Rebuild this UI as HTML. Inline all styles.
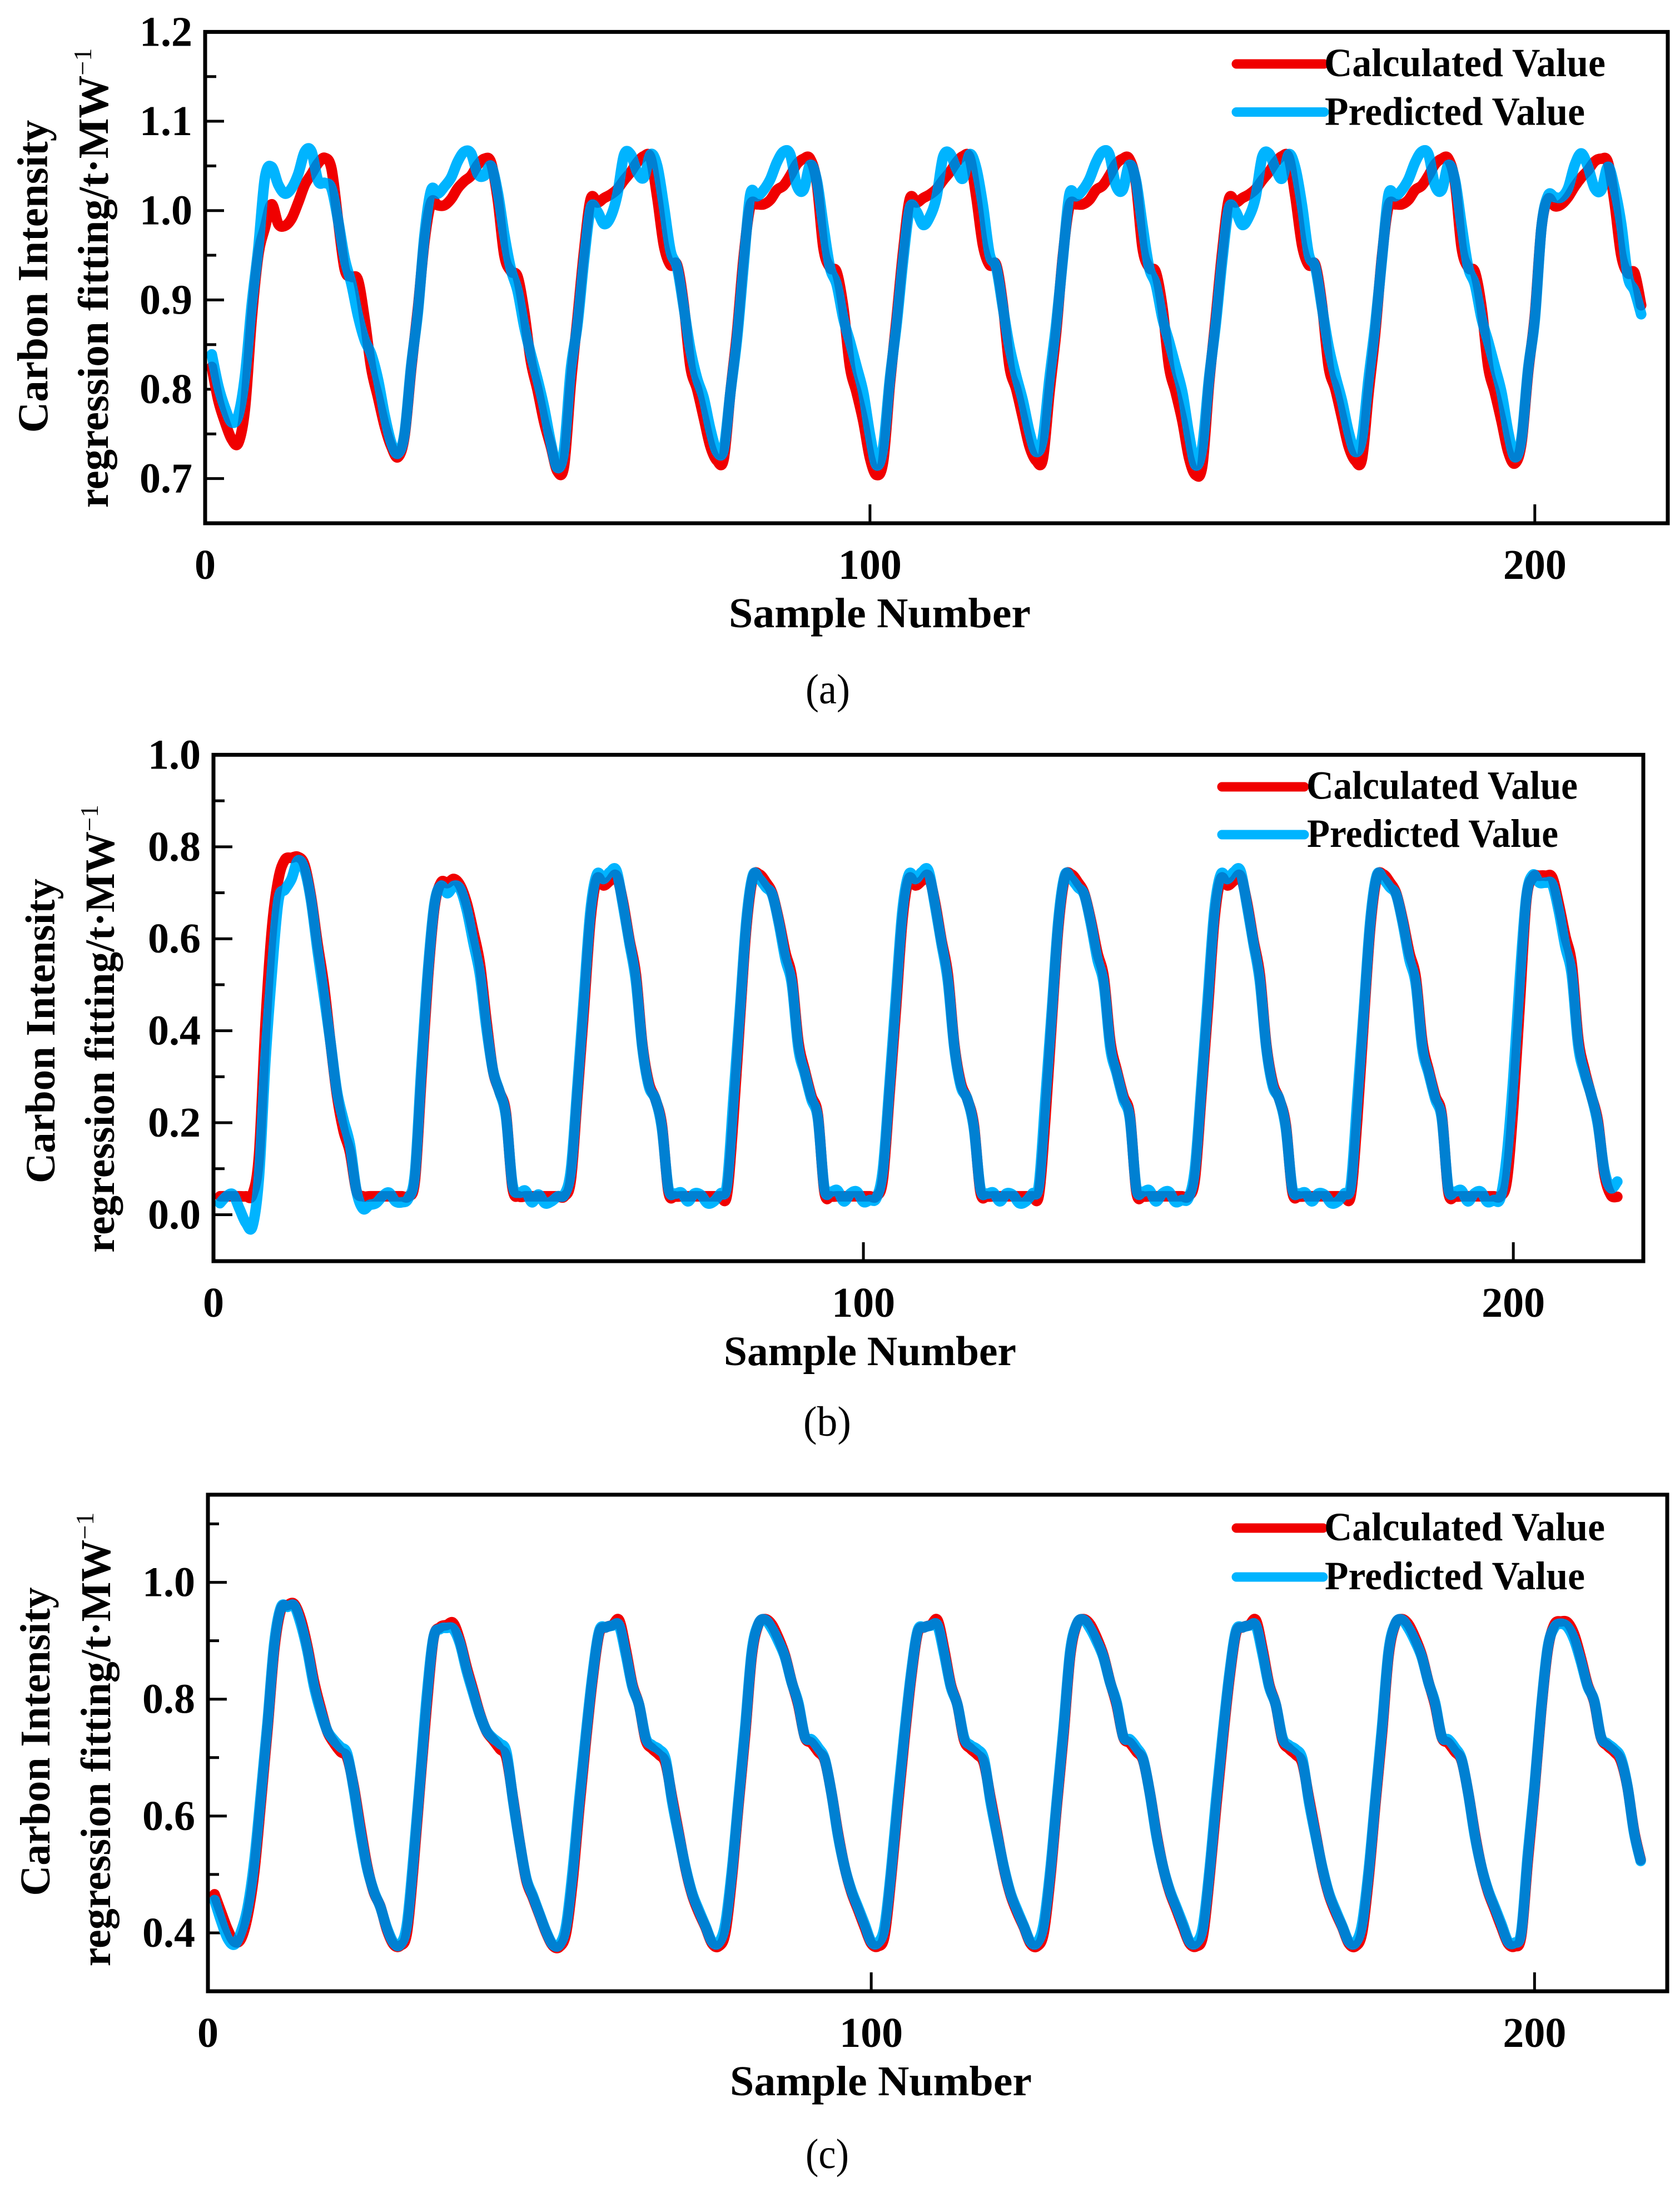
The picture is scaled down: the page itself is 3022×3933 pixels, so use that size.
<!DOCTYPE html>
<html lang="en">
<head>
<meta charset="utf-8">
<title>Carbon Intensity regression fitting</title>
<style>
html,body{margin:0;padding:0;background:#fff}
svg{display:block}
text{font-family:"Liberation Serif",serif;fill:#000}
.b{font-weight:700}
</style>
</head>
<body>
<svg id="figure" xmlns="http://www.w3.org/2000/svg" width="3022" height="3933" viewBox="0 0 3022 3933">
<rect width="3022" height="3933" fill="#fff"/>
<defs id="masks"></defs>

<g id="panel-a"></g>
<g>
  <text class="b" font-size="77" transform="translate(85 497) rotate(-90)" text-anchor="middle">Carbon Intensity</text>
  <text class="b" font-size="77" transform="translate(194 500) rotate(-90)" text-anchor="middle">regression fitting/t·MW<tspan font-size="46" font-weight="400" dy="-30">−1</tspan></text>
  <text class="b" font-size="76" x="1311" y="1128" textLength="543" lengthAdjust="spacingAndGlyphs">Sample Number</text>
  <text font-size="76" x="1449" y="1265" textLength="80" lengthAdjust="spacingAndGlyphs">(a)</text>
  <line x1="2224" x2="2382" y1="115" y2="115" stroke="#f00000" stroke-width="17" stroke-linecap="round"/>
  <line x1="2224" x2="2382" y1="201.5" y2="201.5" stroke="#00b4ff" stroke-width="17" stroke-linecap="round"/>
  <text class="b" font-size="72" x="2382" y="137" textLength="506" lengthAdjust="spacingAndGlyphs">Calculated Value</text>
  <text class="b" font-size="72" x="2383" y="224.5" textLength="468" lengthAdjust="spacingAndGlyphs">Predicted Value</text>
</g>

<g id="panel-b"></g>
<g>
  <text class="b" font-size="75" transform="translate(98 1854) rotate(-90)" text-anchor="middle">Carbon Intensity</text>
  <text class="b" font-size="75" transform="translate(205 1850) rotate(-90)" text-anchor="middle">regression fitting/t·MW<tspan font-size="45" font-weight="400" dy="-29">−1</tspan></text>
  <text class="b" font-size="75" x="1302" y="2455" textLength="526" lengthAdjust="spacingAndGlyphs">Sample Number</text>
  <text font-size="76" x="1445" y="2582" textLength="86" lengthAdjust="spacingAndGlyphs">(b)</text>
  <line x1="2198" x2="2346" y1="1415" y2="1415" stroke="#f00000" stroke-width="17" stroke-linecap="round"/>
  <line x1="2198" x2="2346" y1="1501" y2="1501" stroke="#00b4ff" stroke-width="17" stroke-linecap="round"/>
  <text class="b" font-size="72" x="2350" y="1436.7" textLength="488" lengthAdjust="spacingAndGlyphs">Calculated Value</text>
  <text class="b" font-size="72" x="2351" y="1523" textLength="452" lengthAdjust="spacingAndGlyphs">Predicted Value</text>
</g>

<g id="panel-c"></g>
<g>
  <text class="b" font-size="76" transform="translate(89 3132) rotate(-90)" text-anchor="middle">Carbon Intensity</text>
  <text class="b" font-size="76" transform="translate(198 3128) rotate(-90)" text-anchor="middle">regression fitting/t·MW<tspan font-size="46" font-weight="400" dy="-30">−1</tspan></text>
  <text class="b" font-size="76" x="1313" y="3768" textLength="543" lengthAdjust="spacingAndGlyphs">Sample Number</text>
  <text font-size="76" x="1449" y="3899" textLength="78" lengthAdjust="spacingAndGlyphs">(c)</text>
  <line x1="2224" x2="2380" y1="2748" y2="2748" stroke="#f00000" stroke-width="17" stroke-linecap="round"/>
  <line x1="2224" x2="2380" y1="2836" y2="2836" stroke="#00b4ff" stroke-width="17" stroke-linecap="round"/>
  <text class="b" font-size="72" x="2382" y="2770" textLength="505" lengthAdjust="spacingAndGlyphs">Calculated Value</text>
  <text class="b" font-size="72" x="2383" y="2858" textLength="468" lengthAdjust="spacingAndGlyphs">Predicted Value</text>
</g>
</svg>

<script>
const xTickValues = [0, 100, 200];

const aYMajorTicks = [0.7, 0.8, 0.9, 1.0, 1.1, 1.2];
const aYMinorTicks = [0.65, 0.75, 0.85, 0.95, 1.05, 1.15];
const aYTickLabels = ["0.7", "0.8", "0.9", "1.0", "1.1", "1.2"];
const bYMajorTicks = [0.0, 0.2, 0.4, 0.6, 0.8, 1.0];
const bYMinorTicks = [-0.1, 0.1, 0.3, 0.5, 0.7, 0.9];
const bYTickLabels = ["0.0", "0.2", "0.4", "0.6", "0.8", "1.0"];
const cYMajorTicks = [0.4, 0.6, 0.8, 1.0];
const cYMinorTicks = [0.3, 0.5, 0.7, 0.9, 1.1];
const cYTickLabels = ["0.4", "0.6", "0.8", "1.0"];

const aCalculated = [
.825,.787,.763,.744,.74,.779,.878,.95,.981,1.007,.985,.983,.991,1.009,1.029,1.041,1.053,1.059,1.047,.989,.934,.926,.922,.878,.823,.791,.759,.736,.724,
.748,.823,.89,.966,1.009,1.006,1.006,1.013,1.025,1.033,1.039,1.051,1.058,1.054,1.013,.95,.932,.926,.886,.831,.799,.763,.736,.708,
.715,.806,.879,.955,1.013,1.009,1.014,1.018,1.024,1.034,1.043,1.054,1.061,1.059,1.015,.961,.939,.939,.894,.825,.8,.768,.736,.72,
.722,.796,.863,.948,1.005,1.007,1.007,1.012,1.023,1.028,1.039,1.052,1.058,1.058,1.031,.958,.936,.931,.891,.825,.796,.764,.723,.704,
.72,.806,.879,.955,1.013,1.009,1.014,1.018,1.024,1.034,1.043,1.054,1.061,1.059,1.015,.961,.939,.939,.894,.825,.8,.768,.736,.72,
.722,.796,.863,.948,1.005,1.007,1.007,1.012,1.023,1.028,1.039,1.052,1.058,1.058,1.031,.958,.936,.931,.891,.825,.796,.764,.723,.704,
.715,.806,.879,.955,1.013,1.009,1.014,1.018,1.024,1.034,1.043,1.054,1.061,1.059,1.015,.961,.939,.939,.894,.825,.8,.768,.736,.72,
.722,.796,.863,.948,1.005,1.007,1.007,1.012,1.023,1.028,1.039,1.052,1.058,1.058,1.031,.958,.936,.931,.891,.825,.796,.764,.73,.717,
.74,.819,.882,.981,1.013,1.005,1.007,1.015,1.027,1.037,1.045,1.055,1.058,1.054,1.009,.95,.93,.93,.894
];
const aPredicted = [
.839,.803,.779,.763,.771,.815,.894,.958,1.037,1.049,1.029,1.019,1.025,1.041,1.066,1.066,1.033,1.031,1.025,.989,.946,.918,.882,.855,.839,.811,.771,.74,.728,
.751,.827,.886,.973,1.023,1.019,1.027,1.037,1.055,1.066,1.064,1.041,1.039,1.05,1.021,.973,.934,.91,.87,.839,.811,.779,.74,.712,
.733,.822,.872,.945,1.003,.999,.985,.993,1.018,1.062,1.063,1.043,1.037,1.063,1.05,1.005,.955,.936,.891,.844,.812,.79,.755,.73,.733,
.796,.856,.939,1.018,1.016,1.023,1.035,1.054,1.066,1.063,1.028,1.023,1.051,1.034,.983,.936,.917,.879,.853,.825,.796,.749,.715,.736,
.812,.872,.945,1.003,.999,.984,.993,1.015,1.06,1.064,1.047,1.036,1.063,1.047,1.005,.951,.936,.891,.847,.815,.787,.752,.73,.745,
.812,.872,.945,1.018,1.016,1.023,1.035,1.054,1.066,1.063,1.028,1.023,1.051,1.034,.983,.936,.917,.879,.853,.825,.796,.749,.715,.736,
.812,.872,.945,1.003,.999,.984,.993,1.015,1.06,1.064,1.047,1.036,1.063,1.047,1.005,.951,.936,.891,.847,.815,.787,.752,.73,.745,
.812,.872,.945,1.018,1.016,1.023,1.035,1.054,1.066,1.063,1.028,1.023,1.051,1.034,.983,.936,.917,.879,.853,.825,.796,.752,.724,.745,
.823,.878,.981,1.017,1.015,1.015,1.025,1.051,1.064,1.049,1.025,1.023,1.049,1.025,.985,.926,.91,.884
];

const bCalculated = [
.04,.04,.04,.04,.04,.044,.129,.414,.622,.73,.772,.776,.778,.761,.692,.591,.499,.375,.26,.183,.136,.052,.04,.04,.04,.04,.04,.04,.04,.04,
.075,.298,.514,.668,.722,.721,.73,.715,.676,.614,.545,.422,.314,.268,.221,.059,.04,.04,.04,.04,.04,.04,.04,.04,
.077,.258,.445,.64,.73,.716,.726,.737,.681,.598,.522,.369,.286,.251,.195,.05,.04,.04,.04,.04,.04,.04,.04,.04,
.043,.209,.424,.626,.733,.74,.723,.698,.64,.57,.515,.376,.313,.258,.216,.05,.04,.04,.04,.04,.04,.04,.04,.04,
.077,.258,.445,.64,.73,.716,.726,.737,.681,.598,.522,.369,.286,.251,.195,.05,.04,.04,.04,.04,.04,.04,.04,.04,
.043,.209,.424,.626,.733,.74,.723,.698,.64,.57,.515,.376,.313,.258,.216,.05,.04,.04,.04,.04,.04,.04,.04,.04,
.077,.258,.445,.64,.73,.716,.726,.737,.681,.598,.522,.369,.286,.251,.195,.05,.04,.04,.04,.04,.04,.04,.04,.04,
.043,.209,.424,.626,.733,.74,.723,.698,.64,.57,.515,.376,.313,.258,.216,.05,.04,.04,.04,.04,.04,.04,.04,.04,
.074,.236,.459,.683,.733,.737,.737,.733,.675,.606,.544,.382,.313,.259,.205,.089,.043,.039
];
const bPredicted = [
.025,.04,.044,.013,-.018,-.025,.082,.337,.53,.684,.707,.73,.77,.751,.684,.576,.476,.375,.268,.206,.152,.052,.013,.021,.025,.04,.048,.029,.027,.036,
.09,.322,.53,.676,.715,.699,.715,.707,.661,.591,.522,.406,.314,.268,.214,.067,.048,.052,.027,.044,.025,.029,.04,.044,
.098,.279,.473,.66,.74,.73,.745,.748,.674,.591,.508,.362,.279,.251,.188,.057,.046,.048,.029,.046,.043,.025,.029,.046,
.064,.251,.445,.64,.738,.73,.712,.695,.633,.556,.501,.362,.306,.251,.209,.057,.05,.053,.029,.046,.05,.028,.032,.036,
.098,.279,.473,.66,.74,.73,.745,.748,.674,.591,.508,.362,.279,.251,.188,.057,.046,.048,.029,.046,.043,.025,.029,.046,
.064,.251,.445,.64,.738,.73,.712,.695,.633,.556,.501,.362,.306,.251,.209,.057,.05,.053,.029,.046,.05,.028,.032,.036,
.098,.279,.473,.66,.74,.73,.745,.748,.674,.591,.508,.362,.279,.251,.188,.057,.046,.048,.029,.046,.043,.025,.029,.046,
.064,.251,.445,.64,.738,.73,.712,.695,.633,.556,.501,.362,.306,.251,.209,.057,.05,.053,.029,.046,.05,.028,.032,.036,
.128,.297,.513,.691,.739,.722,.722,.718,.66,.583,.521,.367,.305,.259,.197,.097,.058,.072
];

const cCalculated = [
.466,.435,.405,.385,.39,.43,.505,.625,.75,.885,.953,.961,.963,.937,.89,.83,.785,.745,.725,.71,.7,.65,.58,.515,.47,.445,.405,.38,.378,
.4,.515,.655,.79,.903,.923,.927,.93,.9,.855,.815,.775,.745,.73,.715,.7,.63,.555,.49,.46,.43,.4,.378,.376,
.4,.49,.615,.73,.835,.913,.923,.927,.935,.885,.825,.79,.73,.715,.705,.69,.63,.57,.51,.465,.435,.41,.382,.377,.4,
.495,.62,.74,.875,.928,.937,.928,.905,.875,.83,.79,.735,.725,.71,.695,.64,.57,.512,.47,.44,.41,.382,.377,.395,
.495,.615,.73,.835,.913,.923,.927,.935,.885,.825,.79,.73,.715,.705,.69,.63,.57,.51,.465,.435,.41,.382,.377,.4,
.495,.62,.74,.875,.928,.937,.928,.905,.875,.83,.79,.735,.725,.71,.695,.64,.57,.512,.47,.44,.41,.382,.377,.395,
.495,.615,.73,.835,.913,.923,.927,.935,.885,.825,.79,.73,.715,.705,.69,.63,.57,.51,.465,.435,.41,.382,.377,.4,
.495,.62,.74,.875,.928,.937,.928,.905,.875,.83,.79,.735,.725,.71,.695,.64,.57,.512,.47,.44,.41,.382,.377,.395,
.525,.645,.78,.885,.928,.933,.931,.91,.87,.825,.795,.735,.72,.71,.695,.65,.575,.525
];
const cPredicted = [
.456,.42,.39,.38,.402,.444,.523,.639,.761,.895,.957,.958,.96,.929,.883,.822,.779,.746,.73,.718,.706,.645,.572,.511,.472,.444,.408,.383,.38,
.414,.53,.665,.805,.905,.92,.922,.92,.895,.849,.81,.773,.746,.733,.724,.709,.627,.554,.493,.463,.432,.402,.38,.38,
.412,.507,.629,.741,.843,.917,.923,.926,.926,.877,.821,.79,.734,.721,.714,.697,.624,.566,.512,.468,.439,.412,.385,.383,.415,
.507,.629,.751,.882,.929,.936,.921,.899,.872,.829,.794,.736,.731,.717,.697,.639,.566,.512,.473,.444,.415,.385,.383,.41,
.507,.629,.741,.843,.917,.923,.926,.926,.877,.821,.79,.734,.721,.714,.697,.624,.566,.512,.468,.439,.412,.385,.383,.415,
.507,.629,.751,.882,.929,.936,.921,.899,.872,.829,.794,.736,.731,.717,.697,.639,.566,.512,.473,.444,.415,.385,.383,.41,
.507,.629,.741,.843,.917,.923,.926,.926,.877,.821,.79,.734,.721,.714,.697,.624,.566,.512,.468,.439,.412,.385,.383,.415,
.507,.629,.751,.882,.929,.936,.921,.899,.872,.829,.794,.736,.731,.717,.697,.639,.566,.512,.473,.444,.415,.385,.383,.402,
.536,.651,.785,.889,.923,.929,.923,.901,.864,.822,.797,.736,.724,.715,.7,.651,.572,.523
];

const NS = "http://www.w3.org/2000/svg";

function mk(tag, attrs, parent) {
  const el = document.createElementNS(NS, tag);
  for (const k in attrs) el.setAttribute(k, attrs[k]);
  parent.appendChild(el);
  return el;
}

function splinePath(xs, ys) {
  let d = "M" + xs[0].toFixed(2) + " " + ys[0].toFixed(2);
  const n = xs.length;
  for (let i = 0; i < n - 1; i++) {
    const i0 = Math.max(0, i - 1), i3 = Math.min(n - 1, i + 2);
    const c1x = xs[i] + (xs[i + 1] - xs[i0]) / 6, c1y = ys[i] + (ys[i + 1] - ys[i0]) / 6;
    const c2x = xs[i + 1] - (xs[i3] - xs[i]) / 6, c2y = ys[i + 1] - (ys[i3] - ys[i]) / 6;
    d += "C" + c1x.toFixed(2) + " " + c1y.toFixed(2) + " " + c2x.toFixed(2) + " " + c2y.toFixed(2) + " " + xs[i + 1].toFixed(2) + " " + ys[i + 1].toFixed(2);
  }
  return d;
}

function drawPanel(id, box, yDomain, yMajor, yMinor, yLabels, calculated, predicted) {
  const g = document.getElementById(id);
  const defs = document.getElementById("masks");
  const xScale = v => box.left + (v / 220) * (box.right - box.left);
  const yScale = v => box.bottom - ((v - yDomain[0]) / (yDomain[1] - yDomain[0])) * (box.bottom - box.top);

  yMinor.forEach(v => {
    const t = mk("line", {x1: box.left, x2: box.left + 20, y1: yScale(v), y2: yScale(v), stroke: "#000", "stroke-width": 5}, g);
    
    
  });
  yMajor.forEach((v, i) => {
    const t = mk("line", {x1: box.left, x2: box.left + 34, y1: yScale(v), y2: yScale(v), stroke: "#000", "stroke-width": 5}, g);
    
    
    const lab = mk("text", {x: box.left - 23, y: yScale(v) + 25, "text-anchor": "end", "font-size": 76, class: "b"}, g);
    lab.textContent = yLabels[i];
    
    
  });
  xTickValues.forEach(v => {
    const t = mk("line", {x1: xScale(v), x2: xScale(v), y1: box.bottom, y2: box.bottom - 34, stroke: "#000", "stroke-width": 5}, g);
    
    
    const lab = mk("text", {x: xScale(v), y: box.bottom + 100, "text-anchor": "middle", "font-size": 76, class: "b"}, g);
    lab.textContent = String(v);
    
    
  });

  const calcX = calculated.map((_, i) => xScale(i + 1));
  const calcY = calculated.map(v => yScale(v));
  const predX = predicted.map((_, i) => xScale(i + 1));
  const predY = predicted.map(v => yScale(v));
  const dCalc = splinePath(calcX, calcY);
  const dPred = splinePath(predX, predY);
  const lineStyle = {fill: "none", "stroke-width": 19, "stroke-linecap": "round", "stroke-linejoin": "round"};

  const mask = mk("mask", {id: id + "-overlap", maskUnits: "userSpaceOnUse", x: 0, y: 0, width: 3022, height: 3933}, defs);
  mk("path", Object.assign({d: dCalc, stroke: "#fff"}, lineStyle), mask);

  const calcLine = mk("path", Object.assign({d: dCalc, stroke: "#f00000"}, lineStyle), g);
  
  
  const predLine = mk("path", Object.assign({d: dPred, stroke: "#00b4ff"}, lineStyle), g);
  
  
  const overlap = mk("path", Object.assign({d: dPred, stroke: "#0080d2", mask: "url(#" + id + "-overlap)"}, lineStyle), g);
  
  

  const frame = mk("rect", {x: box.left, y: box.top, width: box.right - box.left, height: box.bottom - box.top, fill: "none", stroke: "#000", "stroke-width": 7}, g);
  
  
}

drawPanel("panel-a", {left: 369, right: 3000, top: 57.4, bottom: 941}, [0.65, 1.2], aYMajorTicks, aYMinorTicks, aYTickLabels, aCalculated, aPredicted);
drawPanel("panel-b", {left: 384, right: 2956, top: 1357.4, bottom: 2268}, [-0.101, 1.0], bYMajorTicks, bYMinorTicks, bYTickLabels, bCalculated, bPredicted);
drawPanel("panel-c", {left: 374, right: 2999, top: 2688, bottom: 3581}, [0.3, 1.15], cYMajorTicks, cYMinorTicks, cYTickLabels, cCalculated, cPredicted);
</script>
</body>
</html>
